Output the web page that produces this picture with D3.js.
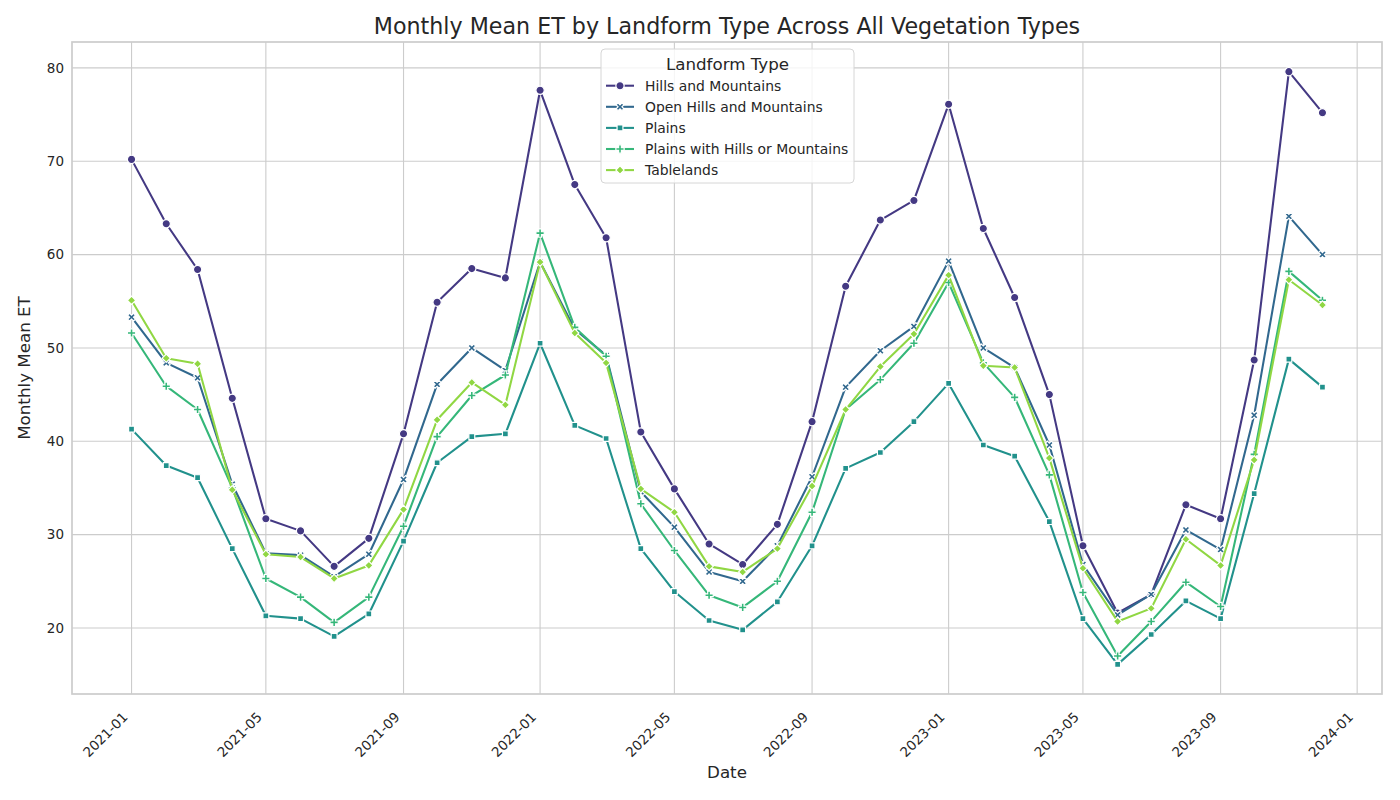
<!DOCTYPE html>
<html>
<head>
<meta charset="utf-8">
<script src="https://cdn.jsdelivr.net/npm/d3@7"></script>
<style>
  body { margin: 0; background: #fff; }
  text { font-family: "DejaVu Sans", sans-serif; fill: #262626; }
</style>
</head>
<body>
<div id="chart"></div>
<script>
// monthly dates, one per point
const months = [
  "2021-01","2021-02","2021-03","2021-04","2021-05","2021-06","2021-07","2021-08","2021-09","2021-10","2021-11","2021-12",
  "2022-01","2022-02","2022-03","2022-04","2022-05","2022-06","2022-07","2022-08","2022-09","2022-10","2022-11","2022-12",
  "2023-01","2023-02","2023-03","2023-04","2023-05","2023-06","2023-07","2023-08","2023-09","2023-10","2023-11","2023-12"
];

const landforms = ["Hills and Mountains", "Open Hills and Mountains", "Plains",
                   "Plains with Hills or Mountains", "Tablelands"];

// values
const hillsMountains = [70.2, 63.3, 58.4, 44.6, 31.7, 30.4, 26.6, 29.6, 40.8, 54.9, 58.5, 57.5,
                        77.6, 67.5, 61.8, 41.0, 34.9, 29.0, 26.8, 31.1, 42.1, 56.6, 63.7, 65.8,
                        76.1, 62.8, 55.4, 45.0, 28.8, 21.6, 23.6, 33.2, 31.7, 48.7, 79.6, 75.2];
const openHillsMountains = [53.3, 48.4, 46.8, 35.4, 28.0, 27.8, 25.5, 27.9, 35.9, 46.1, 50.0, 47.6,
                            59.2, 52.0, 49.2, 34.6, 30.8, 26.0, 25.0, 28.8, 36.2, 45.8, 49.7, 52.3,
                            59.3, 50.0, 47.9, 39.6, 26.8, 21.4, 23.6, 30.5, 28.4, 42.8, 64.1, 60.0];
const plains = [41.3, 37.4, 36.1, 28.5, 21.3, 21.0, 19.1, 21.5, 29.3, 37.7, 40.5, 40.8,
                50.5, 41.7, 40.3, 28.5, 23.9, 20.8, 19.8, 22.8, 28.8, 37.1, 38.8, 42.1,
                46.2, 39.6, 38.4, 31.4, 21.0, 16.1, 19.3, 22.9, 21.0, 34.4, 48.8, 45.8];
const plainsHills = [51.6, 45.9, 43.4, 35.0, 25.3, 23.3, 20.6, 23.3, 30.9, 40.5, 44.9, 47.1,
                     62.3, 52.2, 49.1, 33.3, 28.3, 23.5, 22.2, 25.0, 32.4, 43.4, 46.6, 50.5,
                     57.0, 48.4, 44.7, 36.4, 23.8, 17.0, 20.7, 24.9, 22.3, 38.6, 58.2, 55.1];
const tablelands = [55.1, 48.9, 48.3, 34.8, 27.9, 27.6, 25.3, 26.7, 32.7, 42.3, 46.3, 43.9,
                    59.2, 51.6, 48.4, 34.9, 32.4, 26.6, 26.0, 28.5, 35.2, 43.4, 48.0, 51.5,
                    57.8, 48.1, 47.9, 38.2, 26.4, 20.7, 22.1, 29.5, 26.7, 38.0, 57.3, 54.6];

const seriesValues = [hillsMountains, openHillsMountains, plains, plainsHills, tablelands];
const yTicks = [20, 30, 40, 50, 60, 70, 80];

const W = 1400, H = 800;
const margin = { top: 42, right: 18, bottom: 106, left: 72 };
const plotW = W - margin.left - margin.right;
const plotH = H - margin.top - margin.bottom;

// seaborn viridis palette with 5 levels
const colors = landforms.map((d, i) => d3.interpolateViridis((i + 1) / 6));

const parseMonth = d3.timeParse("%Y-%m");
const dates = months.map(parseMonth);

// marker shapes (matplotlib style, size ~8.3px)
const ms = 8.3;
function polyPath(pts) { return "M" + pts.map(p => p.join(",")).join("L") + "Z"; }
const plusPts = [[-1,-3],[1,-3],[1,-1],[3,-1],[3,1],[1,1],[1,3],[-1,3],[-1,1],[-3,1],[-3,-1],[-1,-1]]
  .map(p => [p[0] / 6 * ms, p[1] / 6 * ms]);
const c45 = Math.SQRT1_2;
const xPts = plusPts.map(p => [p[0] * c45 - p[1] * c45, p[0] * c45 + p[1] * c45]);
const rr = ms / 2;
const markerPaths = [
  `M${rr},0A${rr},${rr} 0 1,1 ${-rr},0A${rr},${rr} 0 1,1 ${rr},0Z`,
  polyPath(xPts),
  polyPath([[-rr * c45, -rr * c45], [rr * c45, -rr * c45], [rr * c45, rr * c45], [-rr * c45, rr * c45]]),
  polyPath(plusPts),
  polyPath([[0, -rr], [rr, 0], [0, rr], [-rr, 0]])
];

// domains with matplotlib's 5% margins
const xExt = d3.extent(dates);
const xPad = (xExt[1] - xExt[0]) * 0.05;
const allVals = seriesValues.flat();
const yExt = d3.extent(allVals);
const yPad = (yExt[1] - yExt[0]) * 0.05;

const x = d3.scaleTime()
  .domain([new Date(+xExt[0] - xPad), new Date(+xExt[1] + xPad)])
  .range([0, plotW]);
const y = d3.scaleLinear()
  .domain([yExt[0] - yPad, yExt[1] + yPad])
  .range([plotH, 0]);

const svg = d3.select("#chart").append("svg")
  .attr("width", W)
  .attr("height", H);

const g = svg.append("g")
  .attr("transform", `translate(${margin.left},${margin.top})`);

// grid lines
const xTickDates = x.ticks(d3.timeMonth.every(4));
g.append("g").selectAll("line").data(yTicks).enter().append("line")
  .attr("x1", 0).attr("x2", plotW)
  .attr("y1", d => y(d)).attr("y2", d => y(d))
  .attr("stroke", "#cccccc").attr("stroke-width", 1.1);
g.append("g").selectAll("line").data(xTickDates).enter().append("line")
  .attr("y1", 0).attr("y2", plotH)
  .attr("x1", d => x(d)).attr("x2", d => x(d))
  .attr("stroke", "#cccccc").attr("stroke-width", 1.1);

// y axis labels
const yAxis = g.append("g").call(d3.axisLeft(y).tickValues(yTicks).tickSize(0).tickPadding(8));
yAxis.select(".domain").remove();
yAxis.selectAll("text")
  .attr("font-size", "13.5px")
  .attr("font-family", "DejaVu Sans, sans-serif")
  .attr("fill", "#262626");

// x axis labels rotated 45
const fmt = d3.timeFormat("%Y-%m");
g.append("g").selectAll("text").data(xTickDates).enter().append("text")
  .attr("transform", d => `translate(${x(d) - 3},${plotH + 24}) rotate(-45)`)
  .attr("text-anchor", "end")
  .attr("font-size", "13.5px")
  .text(d => fmt(d));

// lines and markers
const line = d3.line()
  .x((d, i) => x(dates[i]))
  .y(d => y(d));

seriesValues.forEach((vals, k) => {
  g.append("path")
    .datum(vals)
    .attr("fill", "none")
    .attr("stroke", colors[k])
    .attr("stroke-width", 2.08)
    .attr("stroke-linejoin", "round")
    .attr("d", line);
  g.append("g").selectAll("path").data(vals).enter().append("path")
    .attr("transform", (d, i) => `translate(${x(dates[i])},${y(d)})`)
    .attr("d", markerPaths[k])
    .attr("fill", colors[k])
    .attr("stroke", "#fff")
    .attr("stroke-width", 1.2);
});

// frame
g.append("rect")
  .attr("width", plotW).attr("height", plotH)
  .attr("fill", "none")
  .attr("stroke", "#cccccc")
  .attr("stroke-width", 1.7);

// title and axis labels
svg.append("text")
  .attr("x", margin.left + plotW / 2)
  .attr("y", 34)
  .attr("text-anchor", "middle")
  .attr("font-size", "22.2px")
  .text("Monthly Mean ET by Landform Type Across All Vegetation Types");

svg.append("text")
  .attr("x", margin.left + plotW / 2)
  .attr("y", 778)
  .attr("text-anchor", "middle")
  .attr("font-size", "16.7px")
  .text("Date");

svg.append("text")
  .attr("transform", `translate(30,${margin.top + plotH / 2}) rotate(-90)`)
  .attr("text-anchor", "middle")
  .attr("font-size", "16.7px")
  .text("Monthly Mean ET");

// legend
const legend = svg.append("g").attr("transform", "translate(601,49)");
legend.append("rect")
  .attr("width", 253).attr("height", 134)
  .attr("rx", 4).attr("ry", 4)
  .attr("fill", "rgba(255,255,255,0.8)")
  .attr("stroke", "#d6d6d6")
  .attr("stroke-width", 1);
legend.append("text")
  .attr("x", 126.5).attr("y", 20.5)
  .attr("text-anchor", "middle")
  .attr("font-size", "16.7px")
  .text("Landform Type");

const rows = legend.selectAll(".row").data(landforms).enter().append("g")
  .attr("class", "row")
  .attr("transform", (d, i) => `translate(0,${36.7 + i * 21.1})`);
rows.append("line")
  .attr("x1", 5).attr("x2", 33)
  .attr("stroke", (d, i) => colors[i])
  .attr("stroke-width", 2.08);
rows.append("path")
  .attr("transform", "translate(19,0)")
  .attr("d", (d, i) => markerPaths[i])
  .attr("fill", (d, i) => colors[i])
  .attr("stroke", "#fff")
  .attr("stroke-width", 1.2);
rows.append("text")
  .attr("x", 44).attr("y", 5)
  .attr("font-size", "13.9px")
  .text(d => d);
</script>
</body>
</html>
